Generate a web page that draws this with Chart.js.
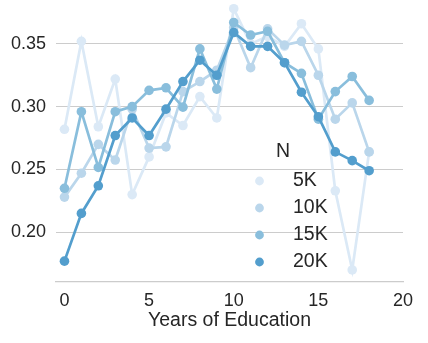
<!DOCTYPE html>
<html>
<head>
<meta charset="utf-8">
<script src="https://cdn.jsdelivr.net/npm/chart.js@4"></script>
<style>
body{margin:0;background:#fff}
#wrap{width:428px;height:343px}
</style>
</head>
<body>
<div id="wrap"><canvas id="eduChart" width="428" height="343"></canvas></div>
<script>

// years of education on x
const years = [0,1,2,3,4,5,6,7,8,9,10,11,12,13,14,15,16,17,18]

const xTicks = [0,5,10,15,20]
const yTicks = [0.20,0.25,0.30,0.35]

const seriesNames = ["5K","10K","15K","20K"]

const n5k = [0.282,0.352,0.284,0.322,0.230,0.260,0.295,0.285,0.308,0.291,0.378,0.350,0.356,0.348,0.366,0.346,0.233,0.170,0.264]
const n10k = [0.228,0.247,0.270,0.2575,0.298,0.267,0.268,0.312,0.320,0.329,0.363,0.331,0.362,0.349,0.352,0.325,0.290,0.303,0.264]
const n15k = [0.235,0.296,0.2516,0.296,0.300,0.313,0.315,0.2996,0.346,0.314,0.367,0.357,0.360,0.335,0.3265,0.290,0.312,0.324,0.305]
const n20k = [0.177,0.215,0.237,0.277,0.291,0.277,0.298,0.320,0.337,0.325,0.359,0.348,0.348,0.335,0.3115,0.292,0.264,0.257,0.249]

const colors = ["#dbe9f6","#bad6eb","#89bedc","#539ecd"]

const allSeries = [n5k,n10k,n15k,n20k]

const textColor = "#262626"
const fontFamily = "'Liberation Sans', Arial, sans-serif"

function makeDataset(i){
    return {
        label:seriesNames[i],
        data:years.map((x,j) => ({x:x, y:allSeries[i][j]})),
        borderColor:colors[i],
        backgroundColor:colors[i],
        pointBackgroundColor:colors[i],
        pointBorderWidth:0,
        pointRadius:4.8,
        borderWidth:2.7,
        tension:0,
        order:4-i
    }
}

// legend drawn inside the plot, like seaborn
const insideLegend = {
    id:"insideLegend",
    afterDraw(chart){
        const ctx = chart.ctx
        ctx.save()
        ctx.fillStyle = textColor
        ctx.textBaseline = "middle"
        ctx.font = "19.5px " + fontFamily
        ctx.textAlign = "center"
        ctx.fillText("N", 283, 152)
        ctx.textAlign = "left"
        chart.data.datasets.forEach((ds,i) => {
            const y = 181 + i*27
            ctx.beginPath()
            ctx.fillStyle = ds.borderColor
            ctx.arc(259.5, y, 4.4, 0, Math.PI*2)
            ctx.fill()
            ctx.fillStyle = textColor
            ctx.fillText(ds.label, 293, y)
        })
        ctx.restore()
    }
}

const eduChart =
new Chart(document.getElementById("eduChart"), {

    type:"line",

    data:{
        datasets:[0,1,2,3].map(makeDataset)
    },

    options:{
        responsive:false,
        animation:false,
        devicePixelRatio:1,
        layout:{padding:{top:0, right:25, left:0, bottom:0}},
        plugins:{
            legend:{display:false},
            tooltip:{enabled:false}
        },
        clip:false,
        scales:{
            x:{
                type:"linear",
                min:-0.5,
                max:20,
                afterBuildTicks(scale){
                    scale.ticks = xTicks.map(v => ({value:v}))
                },
                afterFit(scale){
                    scale.height = 61
                    scale.paddingLeft = 0
                    scale.paddingRight = 0
                },
                grid:{display:false, drawTicks:false},
                border:{display:true, color:"#cccccc", width:1.25},
                ticks:{
                    color:textColor,
                    padding:8,
                    maxRotation:0,
                    font:{size:18, family:fontFamily}
                },
                title:{
                    display:true,
                    text:"Years of Education",
                    color:textColor,
                    padding:{top:0, bottom:11},
                    font:{size:19.5, family:fontFamily}
                }
            },
            y:{
                type:"linear",
                min:0.1604,
                max:0.3811,
                afterBuildTicks(scale){
                    scale.ticks = yTicks.map(v => ({value:v}))
                },
                afterFit(scale){
                    scale.width = 56
                    scale.paddingTop = 0
                    scale.paddingBottom = 0
                },
                grid:{color:"#cccccc", lineWidth:1, drawTicks:false},
                border:{display:false},
                ticks:{
                    color:textColor,
                    padding:10,
                    font:{size:18, family:fontFamily},
                    callback:v => v.toFixed(2)
                }
            }
        }
    },

    plugins:[insideLegend]
})

</script>
</body>
</html>
